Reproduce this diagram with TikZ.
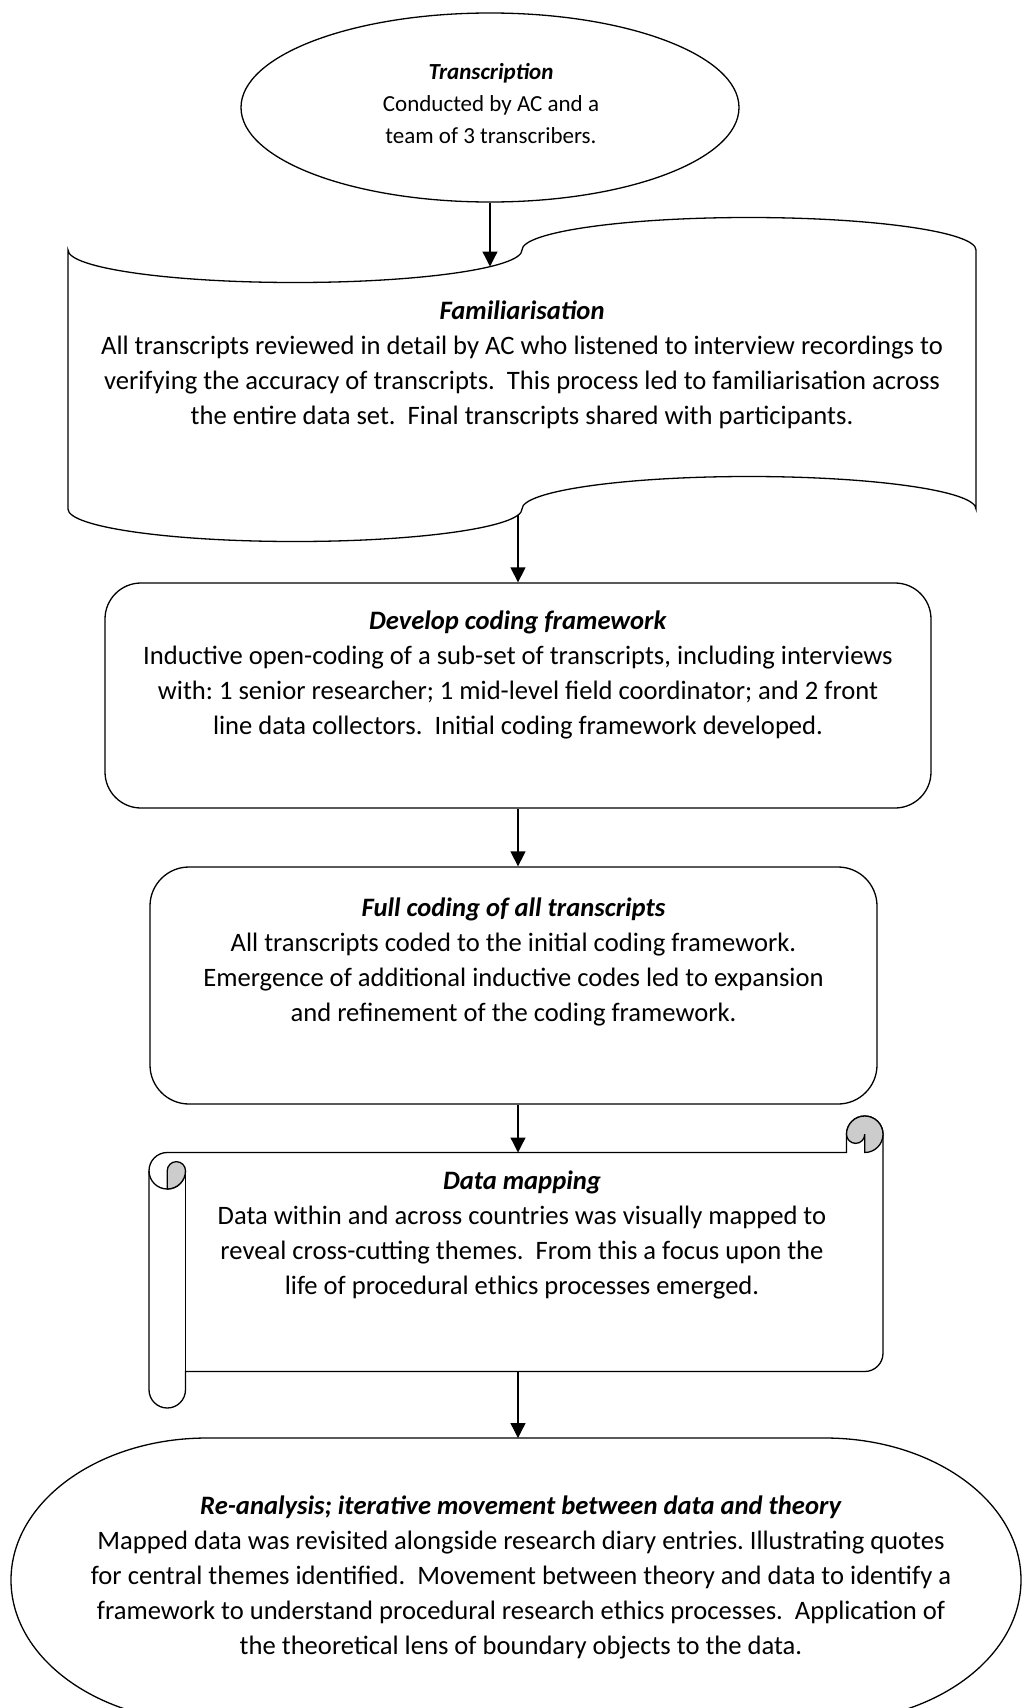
\documentclass[tikz,border=0pt]{standalone}
\usepackage{fontspec}
\setmainfont{Carlito}
\usetikzlibrary{shapes.geometric,arrows.meta}
\frenchspacing
\begin{document}
\begin{tikzpicture}[x=1pt,y=-1pt,
  shp/.style={draw=black,line width=1.3pt,fill=white},
  arr/.style={draw=black,line width=1.3pt,-{Triangle[length=15pt,width=15pt]}},
  txt/.style={align=center,inner sep=0pt,font=\fontsize{26.6}{35}\selectfont},
  txts/.style={align=center,inner sep=0pt,font=\fontsize{23}{31.7}\selectfont},
  curl/.style={draw=black,line width=1.3pt,fill=black!20}]
\useasboundingbox (0,0) rectangle (1024,1708);
\fill[white] (0,0) rectangle (1024,1708);

% Transcription ellipse
\node[ellipse,shp,minimum width=498pt,minimum height=189pt,inner sep=0pt] (transshape) at (490,107.5) {};
\node[txts] (trans) at (491,103.5) {\textbf{\textit{Transcription}}\\Conducted by AC and a\\team of 3 transcribers.};

% Familiarisation punched tape
\path[shp] (68,250) arc[start angle=180,end angle=0,x radius=227,y radius=32.5]
  arc[start angle=180,end angle=360,x radius=227,y radius=32.5]
  -- (976,509)
  arc[start angle=0,end angle=-180,x radius=227,y radius=32.5]
  arc[start angle=0,end angle=180,x radius=227,y radius=32.5] -- cycle;
\node[txt] (fam) at (522,364.5) {\textbf{\textit{Familiarisation}}\\All transcripts reviewed in detail by AC who listened to interview recordings to\\verifying the accuracy of transcripts.~ This process led to familiarisation across\\the entire data set.~ Final transcripts shared with participants.};
\coordinate (famtop) at (490,266.5);
\coordinate (fambot) at (518,515);

% Develop coding framework
\node[shp,rounded corners=36pt,minimum width=826pt,minimum height=225pt,inner sep=0pt] (devshape) at (518,695.5) {};
\node[txt] (dev) at (518,674.5) {\textbf{\textit{Develop coding framework}}\\Inductive open-coding of a sub-set of transcripts, including interviews\\with: 1 senior researcher; 1 mid-level field coordinator; and 2 front\\line data collectors.~ Initial coding framework developed.};

% Full coding
\node[shp,rounded corners=39pt,minimum width=727pt,minimum height=237pt,inner sep=0pt] (fullshape) at (513.5,985.5) {};
\node[txt] (full) at (513.5,962) {\textbf{\textit{Full coding of all transcripts}}\\All transcripts coded to the initial coding framework.\\Emergence of additional inductive codes led to expansion\\and refinement of the coding framework.};

% Data mapping horizontal scroll (l=149,t=1116,r=883,b=1408,ch=36.5)
\path[shp] (149,1170.75) arc[start angle=180,end angle=270,radius=18.25]
  -- (846.5,1152.5) -- (846.5,1134.25)
  arc[start angle=180,end angle=360,radius=18.25]
  -- (883,1353.25)
  arc[start angle=0,end angle=90,radius=18.25]
  -- (185.5,1371.5) -- (185.5,1389.75)
  arc[start angle=0,end angle=180,radius=18.25] -- cycle;
% top-right curl
\path[curl] (846.5,1134.25) arc[start angle=180,end angle=450,radius=18.25]
  -- (864.75,1134.25)
  arc[start angle=0,end angle=180,radius=9.125] -- cycle;
% left strip
\draw[line width=1.3pt] (149,1170.75) arc[start angle=180,end angle=0,radius=18.25];
\draw[line width=1.3pt] (185.5,1170.75) -- (185.5,1371.5);
\path[curl] (167.25,1170.75) arc[start angle=180,end angle=360,radius=9.125]
  arc[start angle=0,end angle=90,radius=18.25] -- cycle;
\node[txt] (map) at (522,1234.5) {\textbf{\textit{Data mapping}}\\Data within and across countries was visually mapped to\\reveal cross-cutting themes.~ From this a focus upon the\\life of procedural ethics processes emerged.};
\coordinate (maptop) at (518,1152.5);
\coordinate (mapbot) at (518,1371.5);

% Re-analysis terminator (clipped by page)
\begin{scope}
\clip (0,0) rectangle (1024,1708);
\path[shp] (207,1438) -- (825,1438)
  arc[start angle=270,end angle=450,x radius=196,y radius=142]
  -- (207,1722)
  arc[start angle=90,end angle=270,x radius=196,y radius=142] -- cycle;
\end{scope}
\coordinate (reatop) at (518,1438);
\node[txt] (rea) at (521,1577.5) {\textbf{\textit{Re-analysis; iterative movement between data and theory}}\\Mapped data was revisited alongside research diary entries. Illustrating quotes\\for central themes identified.~ Movement between theory and data to identify a\\framework to understand procedural research ethics processes.~ Application of\\the theoretical lens of boundary objects to the data.};

% connectors
\draw[arr] (transshape.south) -- (famtop);
\draw[arr] (fambot) -- (devshape.north -| fambot);
\draw[arr] (devshape.south) -- (devshape.south |- fullshape.north);
\draw[arr] (fullshape.south -| maptop) -- (maptop);
\draw[arr] (mapbot) -- (reatop);
\end{tikzpicture}
\end{document}
